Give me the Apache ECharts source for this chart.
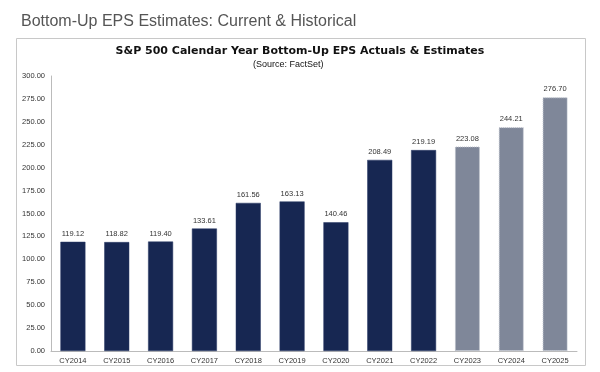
<!DOCTYPE html>
<html><head><meta charset="utf-8">
<script src="https://cdn.jsdelivr.net/npm/echarts@6/dist/echarts.min.js"></script>
<style>html,body{margin:0;padding:0;background:#fff}#c{width:600px;height:372px}</style>
</head><body><div id="c"></div>
<script>
const categories = ['CY2014','CY2015','CY2016','CY2017','CY2018','CY2019','CY2020','CY2021','CY2022','CY2023','CY2024','CY2025'];
const epsValues = [119.12,118.82,119.40,133.61,161.56,163.13,140.46,208.49,219.19,223.08,244.21,276.70];
const isEstimate = [false,false,false,false,false,false,false,false,false,true,true,true];
const yTicks = {min:0, max:300, interval:25};

const chart = echarts.init(document.getElementById('c'), null, {renderer:'canvas'});
const font = 'Liberation Sans, Arial, sans-serif';
chart.setOption({
  animation:false,
  backgroundColor:'#fff',
  title:[
    {text:'Bottom-Up EPS Estimates: Current & Historical', left:16, top:9,
     textStyle:{fontFamily:font, fontSize:16, fontWeight:'normal', color:'#555'}},
    {text:'S&P 500 Calendar Year Bottom-Up EPS Actuals & Estimates', left:'center', top:41,
     textStyle:{fontFamily:'DejaVu Sans, sans-serif', fontSize:11, fontWeight:'bold', color:'#111'}},
    {text:'(Source: FactSet)', left:248, top:55,
     textStyle:{fontFamily:font, fontSize:9, fontWeight:'normal', color:'#111'}}
  ],
  graphic:[{type:'rect', shape:{x:16.5, y:38.5, width:569, height:327},
    style:{fill:'none', stroke:'#c8c8c8', lineWidth:1}, silent:true, z:-1}],
  grid:{left:51, right:23, top:76, bottom:21},
  xAxis:{type:'category', data:categories,
    axisLine:{lineStyle:{color:'#bbb'}}, axisTick:{show:false},
    axisLabel:{fontFamily:font, fontSize:7.5, color:'#333', margin:6}},
  yAxis:{type:'value', min:yTicks.min, max:yTicks.max, interval:yTicks.interval,
    axisLine:{show:true, lineStyle:{color:'#bbb'}}, axisTick:{show:false}, splitLine:{show:false},
    axisLabel:{fontFamily:font, fontSize:7.5, color:'#333', margin:6, formatter:v=>v.toFixed(2)}},
  series:[{type:'bar', barWidth:25,
    data:epsValues.map((v,i)=>({value:v, itemStyle: isEstimate[i]
      ? {color:'#7f8799', borderColor:'#b8bdc8', borderWidth:1, borderType:'dotted'}
      : {color:'#172752', borderColor:'#2a3a66', borderWidth:0.5}})),
    label:{show:true, position:'top', distance:4, fontFamily:font, fontSize:7.5, color:'#333',
      formatter:p=>p.value.toFixed(2)}}]
});
</script></body></html>
